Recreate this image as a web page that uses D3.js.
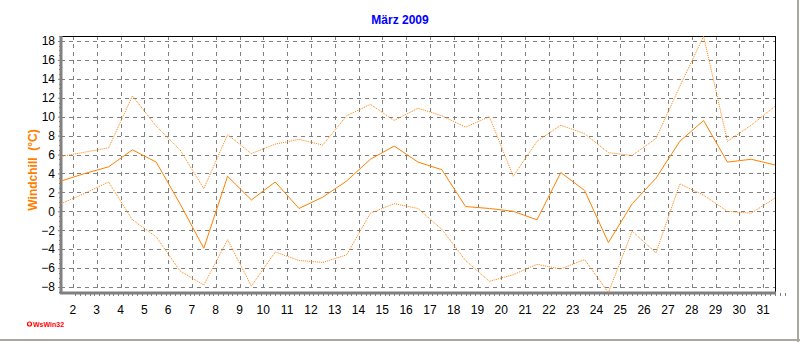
<!DOCTYPE html>
<html>
<head>
<meta charset="utf-8">
<script src="https://cdn.jsdelivr.net/npm/d3@7"></script>
<style>
  body { margin: 0; background: #fff; }
  svg { display: block; font-family: "Liberation Sans", Arial, sans-serif; }
</style>
</head>
<body>
<div id="canvas"></div>
<script>
// data (one point per day)
var days = d3.range(1, 32);
var dayLabels = d3.range(2, 32);
var yTicks = [-8, -6, -4, -2, 0, 2, 4, 6, 8, 10, 12, 14, 16, 18];

var windchillAvg = [3.2, 4.0, 4.7, 6.5, 5.2, 0.8, -3.9, 3.7, 1.2, 3.1, 0.3, 1.5, 3.2, 5.5, 6.9, 5.2,
  4.4, 0.5, 0.3, 0.0, -0.9, 4.1, 2.2, -3.3, 0.8, 3.5, 7.4, 9.6, 5.2, 5.5, 4.9];
var windchillMax = [5.8, 6.25, 6.7, 12.2, 9.0, 6.5, 2.4, 8.1, 6.1, 7.1, 7.6, 7.0, 10.1, 11.3, 9.6, 10.9,
  10.1, 8.9, 10.0, 3.7, 7.4, 9.1, 8.2, 6.2, 5.9, 7.7, 13.2, 18.5, 7.4, 9.1, 11.1];
var windchillMin = [0.8, 1.9, 3.1, -0.9, -2.7, -6.3, -7.8, -3.0, -7.9, -4.3, -5.2, -5.4, -4.6, -0.2, 0.8, 0.3,
  -1.9, -5.2, -7.4, -6.7, -5.6, -6.1, -5.1, -8.6, -2.1, -4.4, 2.9, 1.7, 0.0, -0.2, 1.4];

var W = 800, H = 342;
// plot frame (note: "top" is reserved on window, so use other names)
var pLeft = 61, pRight = 775, pTop = 36, pBottom = 293;
var orange = "#ff8000", grid = "#808080";

var svg = d3.select("#canvas").append("svg")
    .attr("width", W).attr("height", H);

// outer border (right / bottom only, like the screenshot)
svg.append("line").attr("x1", 0).attr("x2", W).attr("y1", 340).attr("y2", 340)
    .attr("stroke", "#a8a8a0").attr("stroke-width", 2);
svg.append("line").attr("x1", 798).attr("x2", 798).attr("y1", 0).attr("y2", H)
    .attr("stroke", "#a8a8a0").attr("stroke-width", 2);

var x = d3.scaleLinear().domain([1, 31]).range([pLeft, pRight]);
var y = d3.scaleLinear().domain([-8, 18]).range([287, 41]);

// grid
var g = svg.append("g");
g.selectAll(".hg").data(yTicks).join("line")
    .attr("x1", pLeft).attr("x2", pRight)
    .attr("y1", function (d) { return Math.round(y(d)) + 0.5; })
    .attr("y2", function (d) { return Math.round(y(d)) + 0.5; })
    .attr("stroke", grid).attr("stroke-dasharray", "4,4");
g.selectAll(".vg").data(dayLabels).join("line")
    .attr("y1", pTop).attr("y2", pBottom)
    .attr("x1", function (d) { return Math.round(x(d - 0.5)) + 0.5; })
    .attr("x2", function (d) { return Math.round(x(d - 0.5)) + 0.5; })
    .attr("stroke", grid).attr("stroke-dasharray", "4,4");

// frame: black top/right, thick grey left/bottom
svg.append("line").attr("x1", pLeft).attr("x2", pRight + 1).attr("y1", pTop + 0.5).attr("y2", pTop + 0.5)
    .attr("stroke", "#000");
svg.append("line").attr("x1", pRight + 0.5).attr("x2", pRight + 0.5).attr("y1", pTop).attr("y2", pBottom)
    .attr("stroke", "#000");

// y axis
var yAxis = d3.axisLeft(y).tickValues(yTicks).tickSize(3).tickPadding(3);
var ya = svg.append("g").attr("transform", "translate(" + pLeft + ",0)").call(yAxis);
ya.select(".domain").remove();
ya.selectAll(".tick line").attr("stroke", grid);
ya.selectAll("text").attr("font-size", 12).attr("fill", "#000");
var yMinor = d3.range(-8.5, 18.6, 0.5).filter(function (v) { return v % 2 !== 0; });
svg.append("g").selectAll("line").data(yMinor).join("line")
    .attr("x1", pLeft - 2).attr("x2", pLeft)
    .attr("y1", function (d) { return Math.round(y(d)) + 0.5; })
    .attr("y2", function (d) { return Math.round(y(d)) + 0.5; })
    .attr("stroke", grid);

// x axis
var xMinor = d3.range(1.6, 31.5, 0.2);
svg.append("g").selectAll("line").data(xMinor).join("line")
    .attr("y1", pBottom).attr("y2", pBottom + 3)
    .attr("x1", function (d) { return Math.round(x(d)) + 0.5; })
    .attr("x2", function (d) { return Math.round(x(d)) + 0.5; })
    .attr("stroke", grid);
svg.append("g").selectAll("text").data(dayLabels).join("text")
    .attr("x", function (d) { return x(d - 0.5); })
    .attr("y", 314)
    .attr("text-anchor", "middle")
    .attr("font-size", 12)
    .text(function (d) { return d; });

svg.append("line").attr("x1", pLeft).attr("x2", pLeft).attr("y1", pTop).attr("y2", pBottom + 1)
    .attr("stroke", grid).attr("stroke-width", 3);
svg.append("line").attr("x1", pLeft - 1).attr("x2", pRight + 1).attr("y1", pBottom).attr("y2", pBottom)
    .attr("stroke", grid).attr("stroke-width", 3);

// series
var line = d3.line()
    .x(function (d, i) { return x(days[i]); })
    .y(function (d) { return y(d); });

svg.append("path").datum(windchillMax).attr("d", line)
    .attr("fill", "none").attr("stroke", orange).attr("stroke-dasharray", "1,1");
svg.append("path").datum(windchillMin).attr("d", line)
    .attr("fill", "none").attr("stroke", orange).attr("stroke-dasharray", "1,1");
svg.append("path").datum(windchillAvg).attr("d", line)
    .attr("fill", "none").attr("stroke", orange).attr("stroke-width", 1);

// texts
svg.append("text").attr("x", 400).attr("y", 24).attr("text-anchor", "middle")
    .attr("font-size", 12).attr("font-weight", "bold").attr("fill", "#0000ff")
    .text("März 2009");

svg.append("text")
    .attr("transform", "translate(37,170) rotate(-90)")
    .attr("text-anchor", "middle")
    .attr("font-size", 12).attr("font-weight", "bold").attr("fill", orange)
    .attr("xml:space", "preserve")
    .text("Windchill  (°C)");

svg.append("circle").attr("cx", 29.5).attr("cy", 324).attr("r", 2)
    .attr("fill", "none").attr("stroke", "#ff0000").attr("stroke-width", 1.2);
svg.append("text").attr("x", 33).attr("y", 327)
    .attr("font-size", 7).attr("font-weight", "bold").attr("fill", "#ff0000")
    .text("WsWin32");
</script>
</body>
</html>
